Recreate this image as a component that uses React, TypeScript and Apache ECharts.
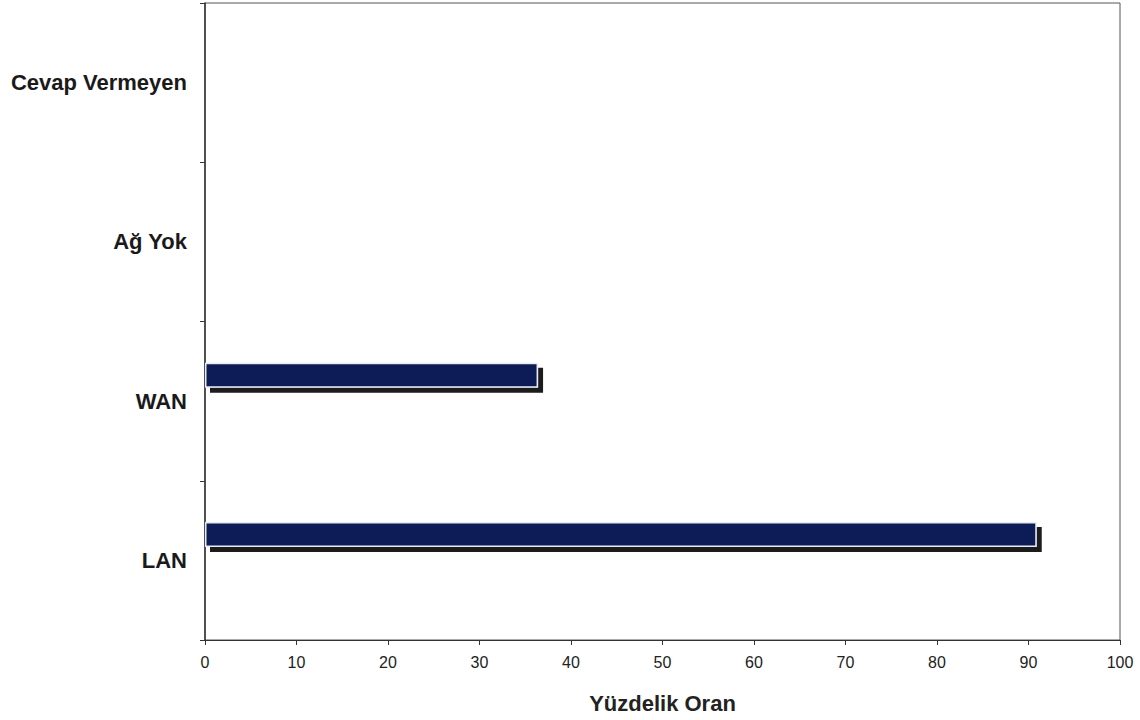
import React, { useEffect, useRef } from "react";
import * as echarts from "echarts";

const categories = ["LAN", "WAN", "Ağ Yok", "Cevap Vermeyen"];
const values = [90.9, 36.4, null, null];
const emptyValues = [null, null, null, null];
const xTicks = { min: 0, max: 100, interval: 10 };
const xTitle = "Yüzdelik Oran";

export default function App() {
  const ref = useRef<HTMLDivElement>(null);
  useEffect(() => {
    if (!ref.current) return;
    const chart = echarts.init(ref.current, null, { renderer: "svg" });
    const font = "'Liberation Sans', Arial, sans-serif";
    chart.setOption({
      animation: false,
      backgroundColor: "#ffffff",
      textStyle: { fontFamily: font },
      grid: {
        left: 205,
        right: 20,
        top: 3,
        bottom: 80,
        containLabel: false,
        outerBoundsMode: "none",
        show: true,
        borderColor: "#555555",
        borderWidth: 1,
        backgroundColor: "transparent",
      },
      xAxis: {
        type: "value",
        min: xTicks.min,
        max: xTicks.max,
        interval: xTicks.interval,
        splitLine: { show: false },
        axisLine: { show: true, lineStyle: { color: "#333333", width: 1 } },
        axisTick: { show: true, length: 5, lineStyle: { color: "#333333" } },
        axisLabel: { fontSize: 16, color: "#222222", margin: 14, fontFamily: font },
        name: xTitle,
        nameLocation: "middle",
        nameGap: 52,
        nameTextStyle: { fontSize: 22, fontWeight: "bold", color: "#222222", fontFamily: font },
      },
      yAxis: {
        type: "category",
        data: categories,
        axisLine: { show: true, lineStyle: { color: "#333333", width: 1.5 } },
        axisTick: { show: true, length: 5, lineStyle: { color: "#333333" } },
        axisLabel: { fontSize: 22, fontWeight: "bold", color: "#1a1a1a", margin: 18, fontFamily: font },
        splitLine: { show: false },
      },
      series: [
        {
          type: "bar",
          data: values,
          barWidth: 25,
          barGap: "108%",
          itemStyle: {
            color: "#0c1d56",
            borderColor: "#e8ecf4",
            borderWidth: 1.5,
            shadowColor: "#1a1a1a",
            shadowBlur: 0,
            shadowOffsetX: 5,
            shadowOffsetY: 5,
          },
        },
        {
          type: "bar",
          data: emptyValues,
          barWidth: 25,
        },
      ],
    });
    return () => chart.dispose();
  }, []);
  return (
    <div
      ref={ref}
      style={{ position: "absolute", left: 0, top: 0, width: 1140, height: 720 }}
    />
  );
}
